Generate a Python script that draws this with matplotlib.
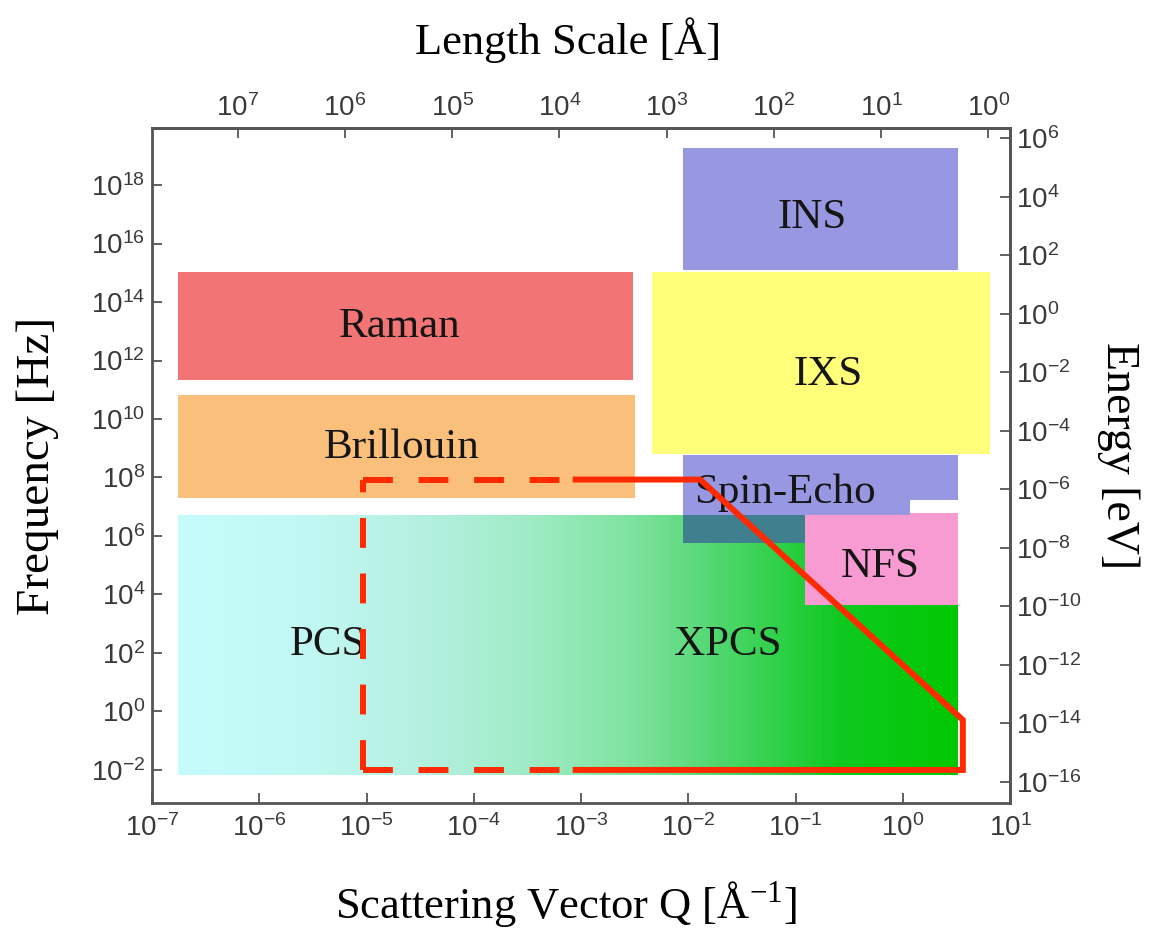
import numpy as np
import matplotlib
matplotlib.use("Agg")
import matplotlib.pyplot as plt
from matplotlib.patches import Rectangle, Polygon
from matplotlib.colors import LinearSegmentedColormap, Normalize
from matplotlib.ticker import FixedLocator, NullLocator, FuncFormatter

# technique boxes as log10 of Q [1/A] and f [Hz]
box_names = ["Raman", "Brillouin", "INS", "IXS", "NFS"]
box_logq_lo = [-6.76, -6.76, -2.05, -2.34, -0.91]
box_logq_hi = [-2.52, -2.50, 0.515, 0.81, 0.515]
box_logf_lo = [11.33, 7.30, 15.09, 8.80, 3.64]
box_logf_hi = [15.03, 10.82, 19.27, 15.03, 6.79]
box_colors = ["#f27474", "#fbbf7c", "#9898e2", "#ffff7a", "#f79bd2"]

# spin-echo has a notch at its lower right corner
spin_logq = [-2.05, 0.515, 0.515, 0.068, 0.068, -2.05]
spin_logf = [8.77, 8.77, 7.23, 7.23, 6.72, 6.72]
# where spin-echo runs under the XPCS block
overlap_logq = [-2.05, -0.91]
overlap_logf = [5.76, 6.72]

# PCS / XPCS block (colour gradient along Q)
pcs_logq = [-6.76, 0.515]
pcs_logf = [-2.17, 6.72]

# red outline of the XPCS reach; the dashed pieces run out from the corners
dash_pieces = [
    ([-5.03, -3.05], [7.93, 7.93]),    # top
    ([-5.03, -5.03], [-2.0, 7.93]),    # left side, drawn upward
    ([-5.03, -3.05], [-2.0, -2.0]),    # bottom
]
solid_logq = [-3.05, -1.89, 0.56, 0.56, -3.05]
solid_logf = [7.93, 7.93, -0.29, -2.0, -2.0]

# label positions (log10 Q, log10 f)
label_text = ["Raman", "Brillouin", "INS", "IXS", "Spin-Echo", "NFS", "PCS", "XPCS"]
label_logq = [-4.69, -4.67, -0.85, -0.70, -1.10, -0.21, -5.36, -1.63]
label_logf = [13.15, 9.0, 16.87, 11.50, 7.47, 4.94, 2.27, 2.27]

freq_ticks = np.arange(-2, 19, 2)
energy_ticks = np.arange(-16, 7, 2)
length_ticks = np.arange(0, 8)
q_ticks = np.arange(-7, 2)

EV_PER_HZ = 10 ** -13.6   # offset of the energy axis as drawn in the figure

plt.rcParams["font.family"] = ["Liberation Sans", "DejaVu Sans"]
serif = ["Liberation Serif", "DejaVu Serif"]

fig = plt.figure(figsize=(11.5, 9.31), dpi=100)
ax = fig.add_axes([0.1322, 0.1375, 0.7461, 0.725])
ax.set_xscale("log")
ax.set_yscale("log")
ax.set_xlim(1e-7, 1e1)
ax.set_ylim(10 ** -3.13, 10 ** 19.95)

# gradient block first
grad_stops = [(-6.76, "#c6fbfb"), (-5.5, "#c0f7f2"), (-4.5, "#b4f0e0"),
              (-3.5, "#9febc6"), (-2.5, "#7de29e"), (-1.8, "#55d874"),
              (-1.1, "#2ccf45"), (-0.6, "#0fc920"), (0.515, "#00c800")]
lo, hi = pcs_logq
cmap = LinearSegmentedColormap.from_list(
    "xpcs", [((v - lo) / (hi - lo), c) for v, c in grad_stops])
qedges = np.logspace(lo, hi, 400)
qmid = np.log10(np.sqrt(qedges[:-1] * qedges[1:]))
ax.pcolormesh(qedges, 10.0 ** np.array(pcs_logf), qmid[None, :], cmap=cmap,
              norm=Normalize(lo, hi), shading="flat", antialiased=False,
              edgecolors="none", zorder=1)

for name, ql, qh, fl, fh, c in zip(box_names, box_logq_lo, box_logq_hi,
                                   box_logf_lo, box_logf_hi, box_colors):
    z = 2.2 if name == "IXS" else 2
    ax.add_patch(Rectangle((10 ** ql, 10 ** fl), 10 ** qh - 10 ** ql,
                           10 ** fh - 10 ** fl, facecolor=c,
                           edgecolor="none", zorder=z))

ax.add_patch(Polygon(np.column_stack([10.0 ** np.array(spin_logq),
                                      10.0 ** np.array(spin_logf)]),
                     closed=True, facecolor="#9898e2", edgecolor="none",
                     zorder=2))
ax.add_patch(Rectangle((10 ** overlap_logq[0], 10 ** overlap_logf[0]),
                       10 ** overlap_logq[1] - 10 ** overlap_logq[0],
                       10 ** overlap_logf[1] - 10 ** overlap_logf[0],
                       facecolor="#3f7f8e", edgecolor="none", zorder=2))

for t, lq, lf in zip(label_text, label_logq, label_logf):
    ax.text(10 ** lq, 10 ** lf, t, ha="center", va="center", fontsize=31,
            family=serif, color="#151515", zorder=3)

red = dict(color="#ff2a00", lw=4.3, solid_joinstyle="miter", zorder=4)
for q, f in dash_pieces:
    ax.plot(10.0 ** np.array(q), 10.0 ** np.array(f), dashes=(5, 4.3), **red)
ax.plot(10.0 ** np.array(solid_logq), 10.0 ** np.array(solid_logf), **red)

def pow10(v, pos):
    return r"$\mathdefault{10^{%d}}$" % round(np.log10(v))

ax.xaxis.set_major_locator(FixedLocator(10.0 ** q_ticks))
ax.yaxis.set_major_locator(FixedLocator(10.0 ** freq_ticks))
for a in (ax.xaxis, ax.yaxis):
    a.set_minor_locator(NullLocator())
    a.set_major_formatter(FuncFormatter(pow10))

top = ax.secondary_xaxis("top", functions=(lambda q: 2 * np.pi / q,
                                           lambda l: 2 * np.pi / l))
top.xaxis.set_major_locator(FixedLocator(10.0 ** length_ticks))
top.xaxis.set_minor_locator(NullLocator())
top.xaxis.set_major_formatter(FuncFormatter(pow10))

right = ax.secondary_yaxis("right", functions=(lambda f: f * EV_PER_HZ,
                                               lambda e: e / EV_PER_HZ))
right.yaxis.set_major_locator(FixedLocator(10.0 ** energy_ticks))
right.yaxis.set_minor_locator(NullLocator())
right.yaxis.set_major_formatter(FuncFormatter(pow10))

tick_kw = dict(direction="in", length=7.5, width=1.3, color="#555555",
               labelcolor="#3a3a3a", labelsize=20)
ax.tick_params(axis="x", top=False, pad=8, **tick_kw)
ax.tick_params(axis="y", right=False, pad=5, **tick_kw)
top.tick_params(axis="x", pad=4, **tick_kw)
right.tick_params(axis="y", pad=4, **tick_kw)

for a in (ax, top, right):
    for s in a.spines.values():
        s.set_linewidth(2)
        s.set_color("#555555")

ax.set_xlabel(r"Scattering Vector Q [Å$^{\mathdefault{-1}}$]", family=serif,
              fontsize=32)
ax.set_ylabel("Frequency [Hz]", family=serif, fontsize=34)
top.set_xlabel("Length Scale [Å]", family=serif, fontsize=32)
right.set_ylabel("Energy [eV]", family=serif, fontsize=33, rotation=-90)

ax.xaxis.set_label_coords(0.4825, -0.151, transform=ax.transAxes)
ax.yaxis.set_label_coords(-0.133, 0.50, transform=ax.transAxes)
top.xaxis.set_label_coords(0.485, 1.130, transform=ax.transAxes)
right.yaxis.set_label_coords(1.126, 0.515, transform=ax.transAxes)
for lab in (ax.xaxis.label, ax.yaxis.label, top.xaxis.label, right.yaxis.label):
    lab.set_va("center")
    lab.set_ha("center")

fig.savefig("out.png", dpi=100)
